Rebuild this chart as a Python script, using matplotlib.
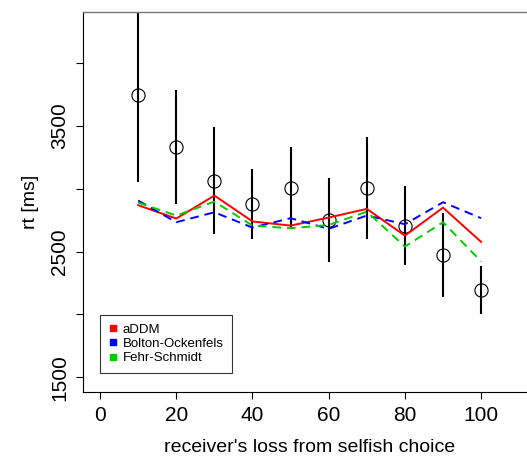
import matplotlib

matplotlib.use("Agg")

import matplotlib.pyplot as plt
from matplotlib.lines import Line2D


# receiver's loss from selfish choice
loss = [10, 20, 30, 40, 50, 60, 70, 80, 90, 100]

# observed mean rt with interval ends
rt_mean = [3744, 3333, 3062, 2877, 3009, 2752, 3007, 2705, 2474, 2195]
rt_low = [3052, 2877, 2638, 2599, 2690, 2418, 2604, 2392, 2142, 2004]
rt_high = [4500, 3786, 3490, 3158, 3331, 3084, 3410, 3020, 2806, 2386]

# model predictions
addm = [2869, 2763, 2946, 2740, 2707, 2771, 2840, 2627, 2850, 2577]
bolton = [2906, 2734, 2813, 2691, 2766, 2681, 2787, 2718, 2893, 2766]
fehr = [2890, 2787, 2898, 2707, 2686, 2712, 2818, 2540, 2734, 2421]

model_names = ["aDDM", "Bolton-Ockenfels", "Fehr-Schmidt"]
model_colors = ["#ff0000", "#0000ff", "#00cd00"]

x_ticks = [0, 20, 40, 60, 80, 100]
y_ticks = [1500, 2000, 2500, 3000, 3500, 4000]
y_labels = ["1500", "", "2500", "", "3500", ""]

plt.rcParams["font.family"] = ["Liberation Sans", "DejaVu Sans"]

fig = plt.figure(figsize=(5.27, 4.59), dpi=100)

ax = fig.add_axes([0.158, 0.1466, 0.859, 0.8273])

ax.vlines(loss, rt_low, rt_high, color="black", linewidth=1.5, zorder=2)

ax.plot(
    loss,
    rt_mean,
    linestyle="none",
    marker="o",
    markersize=9.5,
    markerfacecolor="none",
    markeredgecolor="black",
    markeredgewidth=0.8,
    zorder=3
)

ax.plot(loss, addm, color=model_colors[0], linewidth=1.4, zorder=4)

ax.plot(
    loss,
    bolton,
    color=model_colors[1],
    linewidth=1.4,
    dashes=(4.5, 3),
    zorder=4
)

ax.plot(
    loss,
    fehr,
    color=model_colors[2],
    linewidth=1.4,
    dashes=(4.5, 3),
    zorder=4
)

ax.set_xlim(-4.4, 114.4)
ax.set_ylim(1385, 4407)

ax.set_xticks(x_ticks)
ax.set_yticks(y_ticks)
ax.set_yticklabels(y_labels, rotation=90, va="center")

ax.tick_params(
    axis="both",
    direction="out",
    length=5.3,
    width=0.8,
    labelsize=15,
    pad=5
)

ax.set_xlabel("receiver's loss from selfish choice", fontsize=14, labelpad=10)
ax.set_ylabel("rt [ms]", fontsize=14, labelpad=8)

for side in ["left", "bottom"]:
    ax.spines[side].set_linewidth(0.8)

ax.spines["top"].set_color("#777777")
ax.spines["top"].set_linewidth(1.0)
ax.spines["right"].set_visible(False)

handles = []

for name, color in zip(model_names, model_colors):

    handles.append(
        Line2D(
            [],
            [],
            linestyle="none",
            marker="s",
            markersize=4.5,
            color=color,
            label=name
        )
    )

legend = ax.legend(
    handles=handles,
    loc="upper left",
    bbox_to_anchor=(0.037, 0.202),
    fontsize=9.5,
    frameon=True,
    fancybox=False,
    edgecolor="black",
    handlelength=0.6,
    handletextpad=0.45,
    labelspacing=0.15,
    borderpad=0.65,
    borderaxespad=0
)

legend.get_frame().set_linewidth(0.8)

fig.savefig("out.png", dpi=100)

plt.close(fig)
